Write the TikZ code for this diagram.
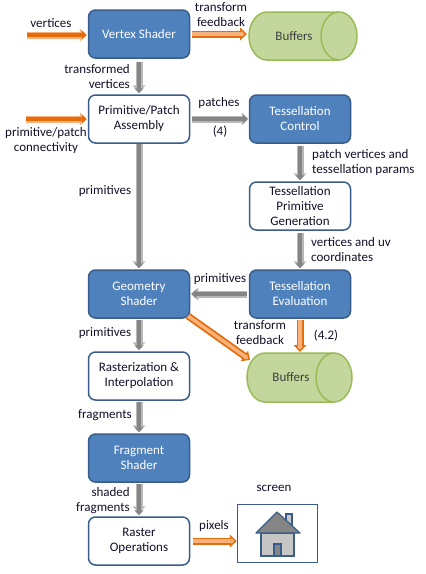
\documentclass[tikz,border=0pt]{standalone}
\usepackage{fontspec}
\setmainfont{Carlito}
\usetikzlibrary{arrows.meta}
\definecolor{bluefill}{HTML}{4F81BD}
\definecolor{blueline}{HTML}{385D8A}
\definecolor{greenfill}{HTML}{C3D69B}
\definecolor{greenline}{HTML}{9BBB59}
\definecolor{orcore}{HTML}{E46C0A}
\definecolor{orlight}{HTML}{F9B27C}
\definecolor{grcore}{HTML}{858585}
\definecolor{grlight}{HTML}{B8B8B8}
\definecolor{txt}{HTML}{14102A}
\tikzset{
  x=1pt,y=-1pt,
  every node/.style={font=\fontsize{13}{15}\selectfont,text=txt,inner sep=0pt},
  boxbase/.style={draw=blueline,line width=1.5pt,rounded corners=7pt,minimum width=101pt,minimum height=48pt,align=center},
  bluebox/.style={boxbase,fill=bluefill,text=white},
  whitebox/.style={boxbase,fill=white},
  lbl/.style={align=center},
  lbll/.style={align=left,anchor=west},
  lblr/.style={align=right,anchor=east},
  grayarrow/.style={draw=grlight,line width=7pt,-{Triangle[width=12.5pt,length=7pt]},
    postaction={draw=grcore,line width=3.6pt,-{Triangle[width=9pt,length=5pt]},shorten >=1pt}},
  solidorange/.style={draw=orlight,line width=7pt,-{Triangle[width=12.5pt,length=7pt]},
    postaction={draw=orcore,line width=3.6pt,-{Triangle[width=9pt,length=5pt]},shorten >=1pt}},
  hollorange/.style={draw=orcore,line width=7pt,-{Triangle[width=12.5pt,length=7pt]},
    postaction={draw=orlight,line width=3.4pt,-{Triangle[width=6pt,length=3pt]},shorten >=2.5pt}},
  bufnode/.style={minimum width=60pt,minimum height=20pt,align=center,text=black!75},
}
\newcommand{\bufshape}[4]{% left, top, right, bottom
  \pgfmathsetmacro{\bufry}{(#4-#2)/2}
  \draw[fill=greenfill,draw=greenline,line width=1.5pt]
    (#1+18,#2) -- (#3-18,#2) arc[start angle=90,end angle=-90,x radius=18pt,y radius=\bufry pt] -- (#1+18,#4)
    arc[start angle=270,end angle=90,x radius=18pt,y radius=\bufry pt] -- cycle;
  \draw[draw=greenline,line width=1.5pt] (#3-18,#2)
    arc[start angle=90,end angle=270,x radius=18pt,y radius=\bufry pt];
}
\begin{document}
\begin{tikzpicture}
\useasboundingbox (0,0) rectangle (426,574);
\fill[white] (0,0) rectangle (426,574);
% cylinders
\bufshape{249}{12}{357}{60}
\bufshape{247}{353}{352}{402}
% boxes
\node[bluebox] (vs) at (139,34) {Vertex Shader};
\node[whitebox] (pa) at (139,119) {Primitive/Patch\\Assembly};
\node[bluebox] (tc) at (300,119) {Tessellation\\Control};
\node[whitebox] (tpg) at (300,206) {Tessellation\\Primitive\\Generation};
\node[bluebox] (te) at (300,294) {Tessellation\\Evaluation};
\node[bluebox] (gs) at (139,294) {Geometry\\Shader};
\node[whitebox] (ri) at (139,376) {Rasterization \&\\Interpolation};
\node[bluebox] (fs) at (139,458) {Fragment\\Shader};
\node[whitebox] (ro) at (139,541) {Raster\\Operations};
\node[bufnode] (b1) at (294,36) {Buffers};
\node[bufnode] (b2) at (291,377) {Buffers};
\node[draw=blueline,line width=1.5pt,minimum width=80pt,minimum height=58pt] (scr) at (277.5,533.5) {};
% house
\fill[grlight!80!white,draw=blueline,line width=1.2pt] (286,514) rectangle (292,528);
\fill[grlight!80!white,draw=blueline,line width=1.2pt] (261,533) rectangle (294,556);
\fill[grcore,draw=blueline,line width=1.2pt,line join=round] (256,533) -- (277,512) -- (300,533) -- cycle;
\fill[grcore,draw=blueline,line width=1.2pt] (274,544) rectangle (281,556);
% free ends
\coordinate (inv) at (27,35);
\coordinate (inp) at (26,119);
\coordinate (gsout) at (188,316);
\coordinate (b2in) at (250,360);
\coordinate (b1in) at (247,34);
\coordinate (b2top) at (300,352);
% connectors
\draw[solidorange,shorten >=1pt] (inv) -- (inv -| vs.west);
\draw[solidorange,shorten >=1pt] (inp) -- (inp -| pa.west);
\draw[hollorange,shorten <=1.5pt] (vs.east) -- (b1in);
\draw[grayarrow,shorten <=3pt,shorten >=2pt] (vs.south) -- (pa.north);
\draw[grayarrow,shorten <=2pt] (pa.east) -- (tc.west);
\draw[grayarrow,shorten <=2pt,shorten >=1pt] (tc.south) -- (tpg.north);
\draw[grayarrow,shorten <=2pt,shorten >=1pt] (tpg.south) -- (te.north);
\draw[grayarrow,shorten >=1pt] (pa.south) -- (gs.north);
\draw[grayarrow,shorten <=2pt,shorten >=1pt] (te.west) -- (gs.east);
\draw[hollorange,shorten <=1pt] (te.south) -- (b2top);
\draw[hollorange] (gsout) -- (b2in);
\draw[grayarrow,shorten <=1pt,shorten >=2pt] (gs.south) -- (ri.north);
\draw[grayarrow,shorten <=1pt,shorten >=1pt] (ri.south) -- (fs.north);
\draw[grayarrow,shorten <=1pt,shorten >=3pt] (fs.south) -- (ro.north);
\draw[hollorange,shorten <=3pt] (ro.east) -- (scr.west |- ro.east);
% labels
\node[lbl] (l1) at (51,23) {vertices};
\node[lbl] (l2) at (221,14.5) {transform\\feedback};
\node[lblr] (l3) at (130,76.5) {transformed\\vertices};
\node[lbl] (l4) at (46,140.5) {primitive/patch\\connectivity};
\node[lbl] (l5) at (219,103) {patches};
\node[lbl] (l6) at (220,132) {(4)};
\node[lbl] (l7) at (105,191) {primitives};
\node[lbll] (l8) at (312,162.5) {patch vertices and\\tessellation params};
\node[lbll] (l9) at (311,249.5) {vertices and uv\\coordinates};
\node[lbl] (l10) at (220,279) {primitives};
\node[lbl] (l11) at (260,332.5) {transform\\feedback};
\node[lbl] (l12) at (326,336) {(4.2)};
\node[lbl] (l13) at (105,333) {primitives};
\node[lbl] (l14) at (105,415) {fragments};
\node[lblr] (l15) at (130,500.5) {shaded\\fragments};
\node[lbl] (l16) at (214,526) {pixels};
\node[lbl] (l17) at (274,488) {screen};
\end{tikzpicture}
\end{document}
